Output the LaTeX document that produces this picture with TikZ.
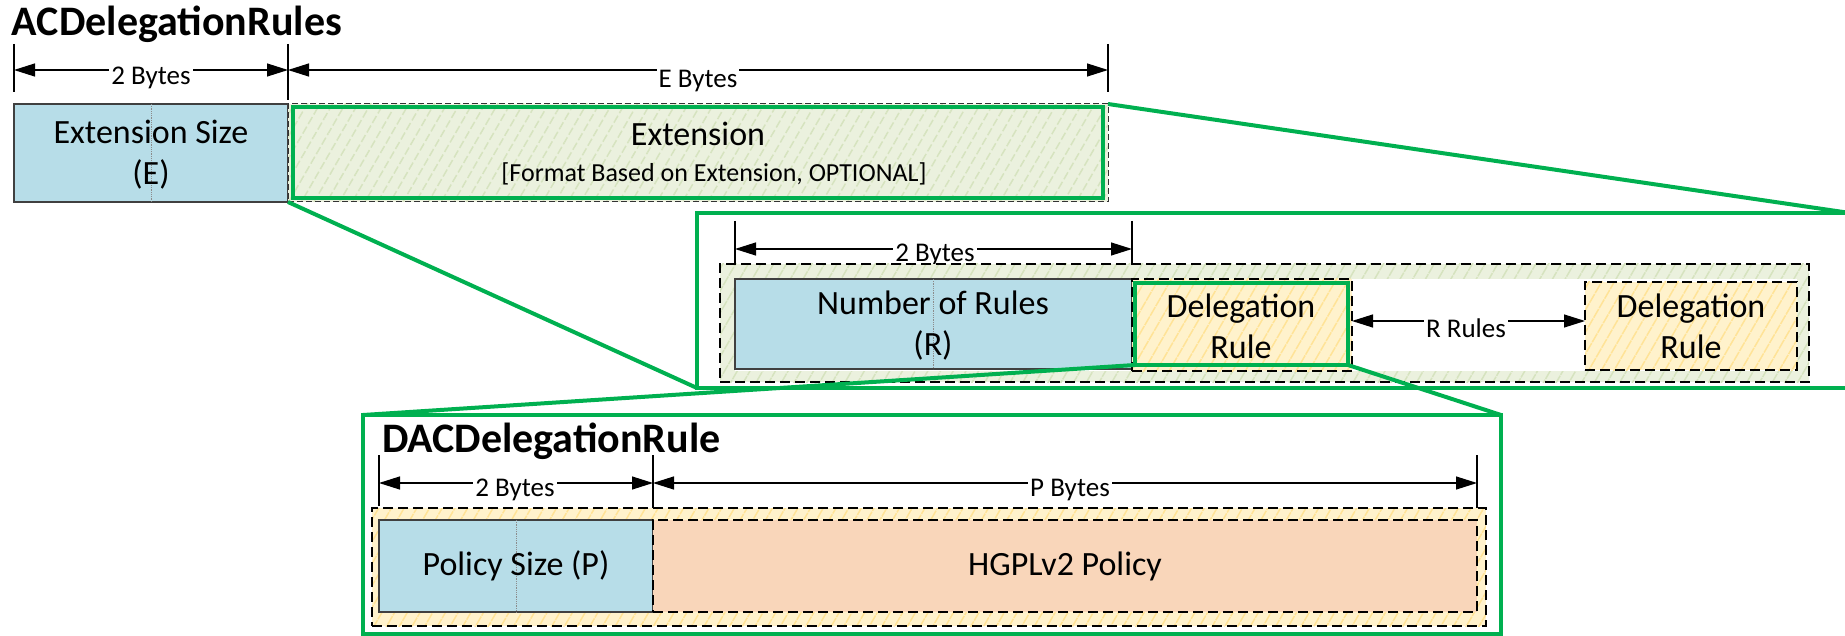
\documentclass[tikz,border=0pt]{standalone}
\usepackage{fontspec}
\setmainfont{Carlito}
\usetikzlibrary{arrows.meta,patterns.meta}
\definecolor{fblue}{HTML}{B7DDE8}
\definecolor{hgreen}{HTML}{EBF1DE}
\definecolor{hgreenl}{HTML}{D6E3BF}
\definecolor{hyellow}{HTML}{FFF2CC}
\definecolor{hyellowl}{HTML}{FFE397}
\definecolor{peach}{HTML}{F9D6BA}
\definecolor{zgreen}{HTML}{00B050}
\newcommand\fsz[2]{\fontsize{#1}{#2}\selectfont}
\begin{document}
\begin{tikzpicture}[x=1pt,y=-1pt,
  every node/.style={inner sep=0pt,outer sep=0pt},
  field/.style={draw=black!75,line width=1.2pt,fill=fblue,align=center,font=\fsz{34}{41}},
  hatchG/.style={preaction={fill=hgreen},pattern={Lines[angle=60,distance=11pt,line width=1.5pt]},pattern color=hgreenl},
  hatchY/.style={preaction={fill=hyellow},pattern={Lines[angle=60,distance=11pt,line width=1.5pt]},pattern color=hyellowl},
  dashbox/.style={draw=black,line width=1.5pt,dash pattern=on 10pt off 5pt},
  thindash/.style={draw=black!80,line width=1pt,dash pattern=on 6pt off 3pt},
  zoomline/.style={draw=zgreen,line width=4pt},
  dimline/.style={line width=1.2pt,{Triangle[length=21pt,width=13pt]}-{Triangle[length=21pt,width=13pt]}},
  tickline/.style={line width=1.3pt},
  dimlabel/.style={fill=white,font=\fsz{27}{30},inner sep=2pt},
  maintext/.style={font=\fsz{34}{41},align=center},
  titletext/.style={font=\fsz{42}{48}\bfseries,anchor=base west},
  cline/.style={draw=black!45,line width=0.8pt,densely dotted}]
\useasboundingbox (0,0) rectangle (1845,636);
\clip (0,0) rectangle (1845,636);

% ---------- Row 1 ----------
\node[titletext] (t1) at (12,36) {ACDelegationRules};
\coordinate (a1) at (14,44);  \coordinate (a1b) at (14,92);
\coordinate (a2) at (288,44); \coordinate (a2b) at (288,100);
\coordinate (a3) at (1108,44);\coordinate (a3b) at (1108,92);
\draw[tickline] (a1) -- (a1b);
\draw[tickline] (a2) -- (a2b);
\draw[tickline] (a3) -- (a3b);
\coordinate (d1l) at (14,70); \coordinate (d1m) at (288,70); \coordinate (d1r) at (1108,70);
\draw[dimline] (d1l) -- (d1m);
\draw[dimline] (d1m) -- (d1r);
\node[dimlabel] (l1) at (151,78) {2 Bytes};
\node[dimlabel] (l2) at (698,81) {E Bytes};

\node[field,minimum width=274pt,minimum height=98pt,anchor=north west] (esize) at (14,104) {};
\draw[cline] (esize.north) -- (esize.south);
\node[maintext] (esizet) at (151,155) {Extension Size\\(E)};

\node[hatchG,thindash,minimum width=820pt,minimum height=98pt,anchor=north west] (ext) at (288,104) {};
\node[draw=zgreen,line width=4pt,minimum width=810pt,minimum height=91pt] (extin) at (ext.center) {};
\node[maintext] (extt) at (698,134) {Extension};
\node[font=\fsz{26}{30}] (exts) at (714,174) {[Format Based on Extension, OPTIONAL]};

% ---------- Row 2 ----------
\node[draw=zgreen,line width=4pt,minimum width=1153pt,minimum height=175pt,anchor=north west] (zoomA) at (697,213) {};
\draw[zoomline] (esize.south east) -- (zoomA.south west);
\draw[zoomline] (ext.north east) -- (zoomA.north east);

\coordinate (b1) at (735,221);  \coordinate (b1b) at (735,274);
\coordinate (b2) at (1132,221); \coordinate (b2b) at (1132,279);
\draw[tickline] (b1) -- (b1b);
\draw[tickline] (b2) -- (b2b);
\coordinate (d2l) at (735,249); \coordinate (d2r) at (1132,249);
\draw[dimline] (d2l) -- (d2r);
\node[dimlabel] (l3) at (935,255) {2 Bytes};

\node[hatchG,dashbox,minimum width=1089pt,minimum height=118pt,anchor=north west] (rules) at (720,264) {};
\node[fill=white,minimum width=1062pt,minimum height=92pt,anchor=north west] (rulesin) at (735,279) {};
\node[field,minimum width=397pt,minimum height=90pt,anchor=north west] (nrules) at (735,279) {};
\draw[cline] (nrules.north) -- (nrules.south);
\node[maintext] (nrulest) at (933,326) {Number of Rules\\(R)};

\node[hatchY,dashbox,minimum width=220pt,minimum height=92pt,anchor=north west] (del1) at (1132,279) {};
\node[draw=zgreen,line width=4pt,minimum width=213pt,minimum height=82pt] (del1g) at (1241.5,324) {};
\node[maintext] (del1t) at (1241,326) {Delegation\\Rule};

\node[hatchY,dashbox,minimum width=212pt,minimum height=88pt,anchor=north west] (del2) at (1585,282) {};
\node[maintext] (del2t) at (del2.center) {Delegation\\Rule};

\coordinate (rr) at (0,321);
\draw[dimline] (del1.east |- rr) -- (del2.west |- rr);
\node[dimlabel] (l4) at (1466,328) {R Rules};

% ---------- Row 3 ----------
\node[draw=zgreen,line width=4pt,minimum width=1138pt,minimum height=219pt,anchor=north west] (zoomB) at (363,415) {};
\draw[zoomline] (del1g.south west) -- (zoomB.north west);
\draw[zoomline] (del1g.south east) -- (zoomB.north east);

\node[titletext] (t2) at (382,452) {DACDelegationRule};
\coordinate (c1) at (379,455);  \coordinate (c1b) at (379,506);
\coordinate (c2) at (653,455);  \coordinate (c2b) at (653,508);
\coordinate (c3) at (1477,455); \coordinate (c3b) at (1477,509);
\draw[tickline] (c1) -- (c1b);
\draw[tickline] (c2) -- (c2b);
\draw[tickline] (c3) -- (c3b);
\coordinate (d3l) at (379,483); \coordinate (d3m) at (653,483); \coordinate (d3r) at (1477,483);
\draw[dimline] (d3l) -- (d3m);
\draw[dimline] (d3m) -- (d3r);
\node[dimlabel] (l5) at (515,490) {2 Bytes};
\node[dimlabel] (l6) at (1070,490) {P Bytes};

\node[hatchY,dashbox,minimum width=1114pt,minimum height=118pt,anchor=north west] (dac) at (372,508) {};
\node[field,minimum width=274pt,minimum height=92pt,anchor=north west] (psize) at (379,520) {};
\draw[cline] (psize.north) -- (psize.south);
\node[maintext] (psizet) at (psize.center) {Policy Size (P)};
\node[dashbox,fill=peach,minimum width=824pt,minimum height=92pt,anchor=north west] (hgpl) at (653,520) {};
\node[maintext] (hgplt) at (hgpl.center) {HGPLv2 Policy};
\end{tikzpicture}
\end{document}
